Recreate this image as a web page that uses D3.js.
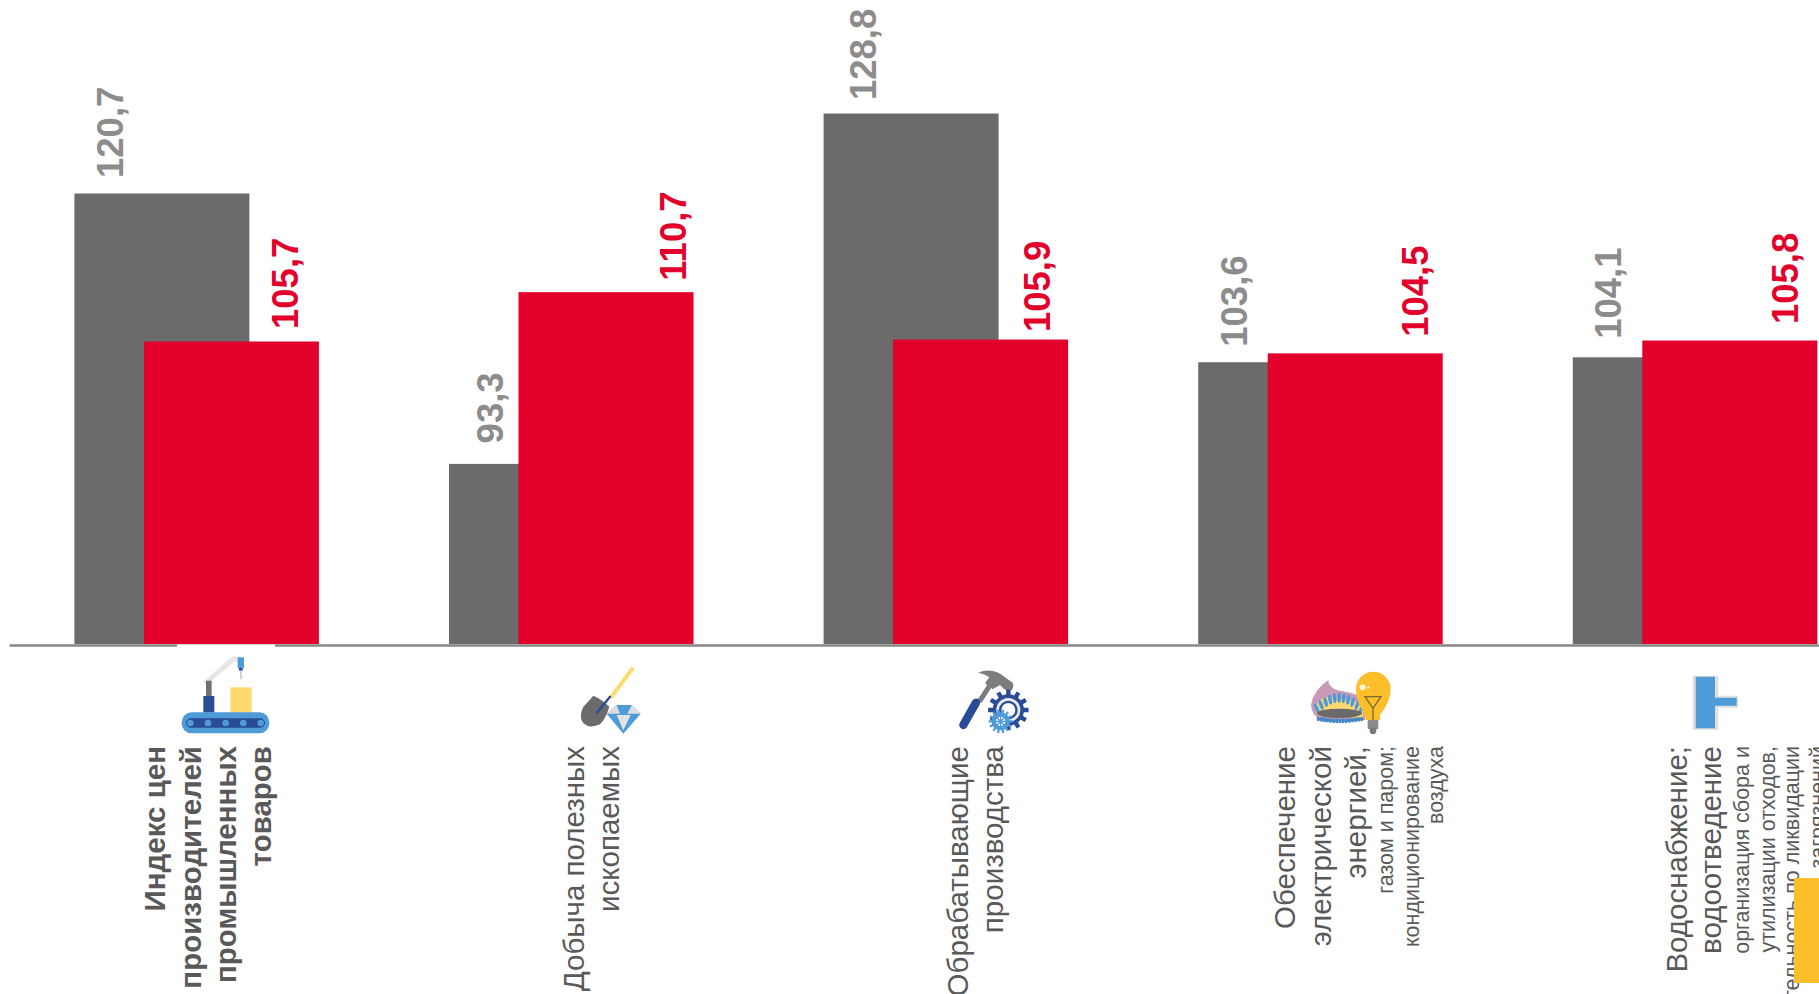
<!DOCTYPE html>
<html lang="ru">
<head>
<meta charset="utf-8">
<script src="https://cdn.jsdelivr.net/npm/d3@7/dist/d3.min.js"></script>
<style>
html,body{margin:0;padding:0;background:#fff;overflow:hidden}
svg{display:block}
text{font-family:"Liberation Sans",Arial,sans-serif}
</style>
</head>
<body>
<svg id="chart" width="1819" height="994"></svg>
<script>
// ---------- data ----------
const categories = ["prices", "mining", "manufacturing", "energy", "water"];
const seriesNames = ["previous", "current"];
const previousValues = [120.7, 93.3, 128.8, 103.6, 104.1];
const currentValues = [105.7, 110.7, 105.9, 104.5, 105.8];
const mainLabels = [
  ["Индекс цен", "производителей", "промышленных", "товаров"],
  ["Добыча полезных", "ископаемых"],
  ["Обрабатывающие", "производства"],
  ["Обеспечение", "электрической", "энергией,"],
  ["Водоснабжение;", "водоотведение"]
];
const subLabels = [
  [],
  [],
  [],
  ["газом и паром;", "кондиционирование", "воздуха"],
  ["организация сбора и", "утилизации отходов,", "деятельность по ликвидации", "загрязнений"]
];

// ---------- layout ----------
const W = 1819, H = 994;
const svg = d3.select("#chart");
const x = d3.scaleBand().domain(categories).range([9.6, 1882.6]);
const y = d3.scaleLinear().domain([75, 140]).range([644.5, 3]);
const seriesOffset = d3.scalePoint().domain(seriesNames).range([-122.5, -53]);
const barWidth = 175;
const colors = {previous: "#6B6B6B", current: "#E3002B"};
const labelColors = {previous: "#8C8C8C", current: "#E3002B"};
const center = c => x(c) + x.bandwidth() / 2;

// label nudges, in px from the bar's centre / top
const prevLabelDx = [-52, -47, -48, -52, -52];
const currLabelDx = [54, 67, 56, 60, 55];
const prevLabelGap = [15.5, 20.5, 13.5, 15.5, 18.5];
const currLabelGap = [12.5, 11.5, 7.5, 16.5, 16.5];
const baselines = [
  [165, 201, 236, 271],
  [584, 619],
  [968, 1003],
  [1295, 1330.5, 1366, 1392.7, 1418.5, 1443],
  [1687, 1720.5, 1748.7, 1775, 1799, 1825]
];

// ---------- axis ----------
const axis = svg.append("g").attr("transform", "translate(0,645)")
  .call(d3.axisBottom(d3.scaleLinear().domain([0, 1]).range([9, W])).tickValues([]).tickSize(0));
axis.select(".domain").attr("stroke", "#868686").attr("stroke-width", 2.5);
svg.append("rect").attr("x", 177).attr("y", 644.5).attr("width", 98).attr("height", 4).attr("fill", "#fff");

// ---------- bars ----------
const drawBars = (name, values) => {
  svg.append("g").selectAll("rect").data(values).join("rect")
    .attr("x", (d, i) => center(categories[i]) + seriesOffset(name))
    .attr("y", d => y(d))
    .attr("width", barWidth)
    .attr("height", d => y(75) - y(d) - 0.5)
    .attr("fill", colors[name]);
};
drawBars("previous", previousValues);
drawBars("current", currentValues);

// ---------- value labels ----------
const drawValues = (name, values, dxs, gaps) => {
  svg.append("g").selectAll("text").data(values).join("text")
    .attr("transform", (d, i) => {
      const cx = center(categories[i]) + seriesOffset(name) + barWidth / 2 + dxs[i] + 13;
      return `translate(${cx},${y(d) - gaps[i]}) rotate(-90)`;
    })
    .attr("font-size", 36.5)
    .attr("font-weight", "bold")
    .attr("fill", labelColors[name])
    .text(d => d3.format(".1f")(d).replace(".", ","));
};
drawValues("previous", previousValues, prevLabelDx, prevLabelGap);
drawValues("current", currentValues, currLabelDx, currLabelGap);

// ---------- category labels ----------
const TEXT_END = 746;
categories.forEach((c, i) => {
  const lines = mainLabels[i].map(t => ({t, s: 29.5})).concat(subLabels[i].map(t => ({t, s: 21.5})));
  svg.append("g").selectAll("text").data(lines).join("text")
    .attr("transform", (d, j) => `translate(${baselines[i][j]},${TEXT_END}) rotate(-90)`)
    .attr("text-anchor", "end")
    .attr("font-size", d => d.s)
    .attr("font-weight", i === 0 ? "bold" : "normal")
    .attr("fill", "#595959")
    .text(d => d.t);
});

// ---------- icons ----------
const BLUE = "#4E9BD8", NAVY = "#2A4B96", YEL = "#FFD96E", AMB = "#FDBE2C", GR = "#6B6B6B";
const icon = (tx, ty) => svg.append("g").attr("transform", `translate(${tx},${ty}) scale(${1/3})`);
const gearPath = (cx, cy, R, r, n) => {
  const p = [];
  for (let k = 0; k < n; k++) {
    const a = k / n * 2 * Math.PI, w = Math.PI / n;
    [[r, a - w], [r, a - w * .55], [R, a - w * .4], [R, a + w * .4], [r, a + w * .55]]
      .forEach(q => p.push([cx + q[0] * Math.cos(q[1]), cy + q[0] * Math.sin(q[1])]));
  }
  return "M" + p.map(q => q.map(v => v.toFixed(1)).join(",")).join("L") + "Z";
};

// conveyor
const i1 = icon(170, 640);
i1.append("path").attr("d", "M105,130L190,57L212,57").attr("fill", "none").attr("stroke", "#E6E6E6").attr("stroke-width", 15);
i1.append("rect").attr("x", 108).attr("y", 122).attr("width", 17).attr("height", 48).attr("fill", "#707070");
i1.append("rect").attr("x", 100).attr("y", 168).attr("width", 33).attr("height", 50).attr("fill", NAVY);
i1.append("rect").attr("x", 203).attr("y", 52).attr("width", 19).attr("height", 33).attr("fill", BLUE);
i1.append("rect").attr("x", 207).attr("y", 84).attr("width", 11).attr("height", 8).attr("fill", NAVY);
i1.append("rect").attr("x", 211).attr("y", 92).attr("width", 4).attr("height", 26).attr("fill", "#BDBDBD");
i1.append("rect").attr("x", 181).attr("y", 142).attr("width", 64).attr("height", 76).attr("fill", YEL);
i1.append("rect").attr("x", 35).attr("y", 217).attr("width", 263).attr("height", 63).attr("rx", 30).attr("fill", BLUE);
i1.append("rect").attr("x", 48).attr("y", 235).attr("width", 237).attr("height", 28).attr("rx", 14).attr("fill", NAVY);
[61, 114, 167, 220, 272].forEach(cx => i1.append("circle").attr("cx", cx).attr("cy", 249).attr("r", 10).attr("fill", BLUE));

// shovel and diamond
const i2 = icon(570, 655);
i2.append("path").attr("d", "M186,42L125,125").attr("stroke", YEL).attr("stroke-width", 12).attr("stroke-linecap", "round");
i2.append("path").attr("d", "M70,122Q95,132 118,155Q108,190 90,208Q60,222 40,205Q25,185 40,155Q55,140 70,122Z").attr("fill", GR);
i2.append("path").attr("d", "M120,125L82,172").attr("stroke", NAVY).attr("stroke-width", 7).attr("stroke-linecap", "round");
i2.append("path").attr("d", "M110,176L140,150L185,150L212,176L160,236Z").attr("fill", BLUE);
i2.append("path").attr("d", "M140,150L150,176L110,176ZM185,150L172,176L212,176Z").attr("fill", "#DDDDDD");
i2.append("path").attr("d", "M140,180L182,180L160,226Z").attr("fill", "#E4E4E4");

// hammer and gears
const i3 = icon(950, 660);
i3.append("path").attr("d", "M125,68L88,125").attr("stroke", "#7C7C7C").attr("stroke-width", 15);
i3.append("path").attr("d", "M84,38Q130,20 165,52L188,68Q195,85 178,95Q165,92 150,75L128,88L105,70L118,52Q105,42 84,38Z").attr("fill", "#7C7C7C");
i3.append("path").attr("d", "M78,128L40,195").attr("stroke", NAVY).attr("stroke-width", 25).attr("stroke-linecap", "round");
i3.append("path").attr("d", gearPath(175, 150, 61, 47, 12)).attr("fill", NAVY);
i3.append("circle").attr("cx", 175).attr("cy", 150).attr("r", 36).attr("fill", "#E8EEF7");
i3.append("circle").attr("cx", 175).attr("cy", 150).attr("r", 28).attr("fill", NAVY);
i3.append("circle").attr("cx", 175).attr("cy", 150).attr("r", 21).attr("fill", "#fff");
i3.append("path").attr("d", gearPath(152, 184, 36, 27, 14)).attr("fill", BLUE);
i3.append("circle").attr("cx", 152).attr("cy", 184).attr("r", 14).attr("fill", "#fff");
i3.append("path").attr("d", "M130,184L174,184M152,162L152,206M136,168L168,200M168,168L136,200").attr("stroke", BLUE).attr("stroke-width", 4);

// burner and bulb
const i4 = icon(1300, 665);
i4.append("path").attr("d", "M85,45Q85,72 125,78Q165,85 195,100L195,165L70,170Q35,155 33,120Q40,75 85,45Z").attr("fill", "#C999B8");
i4.append("path").attr("d", "M48,150Q45,105 75,98Q125,90 190,120L190,160Z").attr("fill", YEL);
for (let k = 0; k < 11; k++) {
  const t = k / 10;
  const bx = 50 + 135 * t, by = 130 - 32 * Math.sin(t * Math.PI);
  i4.append("ellipse").attr("cx", bx).attr("cy", by).attr("rx", 5.5).attr("ry", 15)
    .attr("transform", `rotate(${(t - .5) * 50} ${bx} ${by})`).attr("fill", BLUE);
}
i4.append("ellipse").attr("cx", 118).attr("cy", 145).attr("rx", 68).attr("ry", 14).attr("fill", "#6A6A6A");
for (let k = 0; k < 15; k++) {
  const t = k / 14;
  i4.append("ellipse").attr("cx", 55 + 130 * t).attr("cy", 162 + 6 * Math.sin(t * Math.PI))
    .attr("rx", 5).attr("ry", 7).attr("fill", "#4187C6");
}
i4.append("path").attr("d", "M196,165L196,150Q168,110 168,72A52,52 0 1 1 272,72Q272,110 240,150L240,165Z").attr("fill", AMB);
i4.append("rect").attr("x", 203).attr("y", 165).attr("width", 32).attr("height", 28).attr("rx", 4).attr("fill", "#8A8A8A");
i4.append("circle").attr("cx", 219).attr("cy", 197).attr("r", 10).attr("fill", "#7A7A7A");
i4.append("path").attr("d", "M195,95L243,95L219,130Z M219,130L219,165").attr("fill", "none").attr("stroke", "#7A6A30").attr("stroke-width", 4);
i4.append("circle").attr("cx", 188).attr("cy", 67).attr("r", 9).attr("fill", "#FFF4D6");
i4.append("circle").attr("cx", 205).attr("cy", 67).attr("r", 3.5).attr("fill", "#FFF4D6");

// pipe
const i5 = icon(1670, 665);
i5.append("path").attr("d", "M68,32L145,32L145,92L204,92L204,128L145,128L145,194L68,194Z").attr("fill", "#DFDFDF");
i5.append("path").attr("d", "M77,35L135,35L135,98L200,98L200,122L135,122L135,190L77,190Z").attr("fill", BLUE);

// ---------- yellow corner block ----------
svg.append("rect").attr("x", 1794).attr("y", 878).attr("width", 25).attr("height", 105).attr("fill", AMB);
</script>
</body>
</html>
